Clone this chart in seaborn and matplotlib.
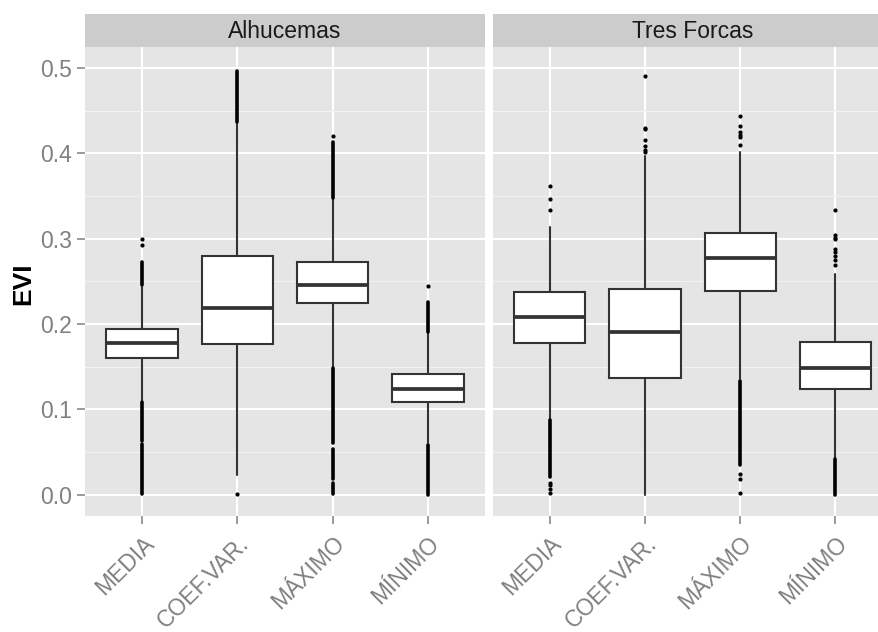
import numpy as np
import pandas as pd
import matplotlib
matplotlib.use("Agg")
import matplotlib.pyplot as plt
import matplotlib.transforms as mtransforms
import seaborn as sns

# ---------------- data ----------------
categories = ["MEDIA", "COEF.VAR.", "MÁXIMO", "MÍNIMO"]
sites = ["Alhucemas", "Tres Forcas"]
yticks = [0.0, 0.1, 0.2, 0.3, 0.4, 0.5]

# Alhucemas box statistics (category order above)
alh_whislo = [0.111, 0.023, 0.150, 0.060]
alh_q1 = [0.160, 0.177, 0.224, 0.108]
alh_med = [0.178, 0.219, 0.246, 0.124]
alh_q3 = [0.194, 0.280, 0.273, 0.141]
alh_whishi = [0.243, 0.435, 0.346, 0.189]

# Tres Forcas box statistics
tf_whislo = [0.089, 0.000, 0.135, 0.043]
tf_q1 = [0.178, 0.137, 0.238, 0.124]
tf_med = [0.208, 0.190, 0.277, 0.148]
tf_q3 = [0.237, 0.241, 0.307, 0.179]
tf_whishi = [0.314, 0.397, 0.401, 0.259]

# isolated outliers: (category, value)
alh_out_cat = ["MEDIA", "MEDIA", "COEF.VAR.", "MÁXIMO", "MÍNIMO"]
alh_out_val = [0.300, 0.293, 0.001, 0.420, 0.244]
tf_out_cat = ["MEDIA", "MEDIA", "MEDIA", "MEDIA", "MEDIA", "MEDIA", "MEDIA",
              "COEF.VAR.", "COEF.VAR.", "COEF.VAR.", "COEF.VAR.", "COEF.VAR.", "COEF.VAR.", "COEF.VAR.",
              "MÁXIMO", "MÁXIMO", "MÁXIMO", "MÁXIMO", "MÁXIMO", "MÁXIMO", "MÁXIMO", "MÁXIMO", "MÁXIMO",
              "MÍNIMO", "MÍNIMO", "MÍNIMO", "MÍNIMO", "MÍNIMO", "MÍNIMO", "MÍNIMO", "MÍNIMO", "MÍNIMO"]
tf_out_val = [0.362, 0.347, 0.333, 0.014, 0.011, 0.007, 0.002,
              0.491, 0.430, 0.428, 0.416, 0.408, 0.404, 0.401,
              0.444, 0.432, 0.425, 0.422, 0.419, 0.410, 0.024, 0.018, 0.002,
              0.333, 0.304, 0.301, 0.299, 0.288, 0.284, 0.280, 0.275, 0.269]

# dense runs of outliers (overlapping points): (category, low, high)
alh_run_cat = ["MEDIA", "MEDIA", "MEDIA", "COEF.VAR.", "MÁXIMO", "MÁXIMO", "MÁXIMO", "MÁXIMO", "MÍNIMO", "MÍNIMO"]
alh_run_lo = [0.246, 0.063, 0.001, 0.437, 0.348, 0.060, 0.018, 0.001, 0.191, 0.000]
alh_run_hi = [0.272, 0.109, 0.059, 0.497, 0.413, 0.148, 0.053, 0.014, 0.226, 0.058]
tf_run_cat = ["MEDIA", "MÁXIMO", "MÍNIMO"]
tf_run_lo = [0.020, 0.035, 0.000]
tf_run_hi = [0.087, 0.133, 0.042]

# ---------------- style ----------------
sns.set_theme(style="darkgrid")
plt.rcParams['font.family'] = ['Liberation Sans', 'DejaVu Sans']

W, H = 879, 632
fig = plt.figure(figsize=(W / 100, H / 100), dpi=100)

panel_bg = "#E5E5E5"
strip_bg = "#CCCCCC"
line_col = "#333333"
tick_col = "#808080"
fs_tick = 16.5
pos = {c: i + 1 for i, c in enumerate(categories)}

site_data = {
    "Alhucemas": dict(lo=alh_whislo, q1=alh_q1, med=alh_med, q3=alh_q3, hi=alh_whishi,
                      oc=alh_out_cat, ov=alh_out_val, rc=alh_run_cat, rl=alh_run_lo, rh=alh_run_hi),
    "Tres Forcas": dict(lo=tf_whislo, q1=tf_q1, med=tf_med, q3=tf_q3, hi=tf_whishi,
                        oc=tf_out_cat, ov=tf_out_val, rc=tf_run_cat, rl=tf_run_lo, rh=tf_run_hi),
}

panel_left_px = [85.0, 492.6]
panel_w_px = 400.0
panel_top_px, panel_bot_px = 47.0, 515.5
strip_top_px = 14.3

for k, site in enumerate(sites):
    d = site_data[site]
    x0 = panel_left_px[k] / W
    ax = fig.add_axes([x0, 1 - panel_bot_px / H, panel_w_px / W, (panel_bot_px - panel_top_px) / H])
    ax.set_facecolor(panel_bg)
    for s in ax.spines.values():
        s.set_visible(False)

    stats = []
    for i, c in enumerate(categories):
        stats.append(dict(label=c, whislo=d["lo"][i], q1=d["q1"][i], med=d["med"][i],
                          q3=d["q3"][i], whishi=d["hi"][i], fliers=[]))
    ax.bxp(stats, positions=[pos[c] for c in categories], widths=0.75,
           showcaps=False, showfliers=False, patch_artist=True,
           boxprops=dict(facecolor="white", edgecolor=line_col, linewidth=1.5),
           medianprops=dict(color=line_col, linewidth=2.7, solid_capstyle="butt"),
           whiskerprops=dict(color=line_col, linewidth=1.5))

    # dense outlier runs
    ax.vlines([pos[c] for c in d["rc"]], d["rl"], d["rh"], colors="black",
              linewidth=2.6, zorder=4, capstyle="round")
    # isolated outliers
    df = pd.DataFrame({"x": [pos[c] for c in d["oc"]], "y": d["ov"]})
    sns.scatterplot(data=df, x="x", y="y", ax=ax, color="black", s=9,
                    linewidth=0, zorder=5, legend=False)

    ax.set_xlim(0.4, 4.6)
    ax.set_ylim(-0.0246, 0.5246)
    ax.set_xticks([pos[c] for c in categories])
    ax.set_xticklabels([])
    ax.set_yticks(yticks)
    ax.set_yticks([0.05, 0.15, 0.25, 0.35, 0.45], minor=True)
    ax.grid(which="major", color="white", linewidth=1.5)
    ax.grid(which="minor", axis="y", color="#F2F2F2", linewidth=0.8)
    ax.set_axisbelow(True)
    ax.set_xlabel("")
    ax.set_ylabel("")
    ax.tick_params(axis="x", which="major", length=6, width=1.1, color=tick_col, bottom=True)
    ax.tick_params(axis="y", which="minor", length=0, left=False)
    if k == 0:
        ax.set_yticklabels([f"{v:.1f}" for v in yticks])
        ax.tick_params(axis="y", which="major", length=6, width=1.1, color=tick_col,
                       labelcolor=tick_col, labelsize=fs_tick, pad=3.2, left=True)
    else:
        ax.set_yticklabels([])
        ax.tick_params(axis="y", which="major", length=0, left=False)

    # rotated x labels
    tr = mtransforms.blended_transform_factory(ax.transData, fig.transFigure)
    for c in categories:
        ax.text(pos[c], 1 - 532 / H, c, transform=tr, rotation=45, rotation_mode="anchor",
                ha="right", va="top", color=tick_col, fontsize=fs_tick)

    # strip
    sax = fig.add_axes([x0, 1 - panel_top_px / H, panel_w_px / W, (panel_top_px - strip_top_px) / H])
    sax.set_facecolor(strip_bg)
    sax.set_xticks([])
    sax.set_yticks([])
    sax.grid(False)
    for s in sax.spines.values():
        s.set_visible(False)
    sax.text(0.5, 0.46, site, transform=sax.transAxes, ha="center", va="center",
             color="#1A1A1A", fontsize=fs_tick)

fig.text(23.5 / W, 1 - 284 / H, "EVI", rotation=90, ha="center", va="center",
         fontsize=19, fontweight="bold", color="black")

fig.savefig("out.png", dpi=100, facecolor="white")
